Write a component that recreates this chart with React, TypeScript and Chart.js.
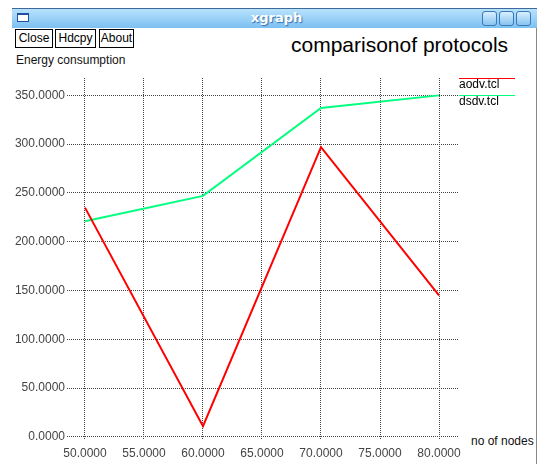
import React, { useEffect, useRef } from "react";
import { Chart, registerables } from "chart.js";

Chart.register(...registerables);

const xValues = [50, 60, 70, 80];
const aodvValues = [235, 11, 297, 145];
const dsdvValues = [221, 247, 337, 350];
const seriesNames = ["aodv.tcl", "dsdv.tcl"];
const xTicks = [50, 55, 60, 65, 70, 75, 80];
const yTicks = [0, 50, 100, 150, 200, 250, 300, 350];

const FONT = "'Liberation Sans', Arial, Helvetica, sans-serif";

const legendPlugin = {
  id: "xgLegend",
  afterDraw(chart: any) {
    const ctx = chart.ctx;
    ctx.save();
    chart.data.datasets.forEach((ds: any, i: number) => {
      const y = 78 + 17 * i;
      ctx.strokeStyle = ds.borderColor;
      ctx.lineWidth = 1;
      ctx.beginPath();
      ctx.moveTo(459, y + 0.5);
      ctx.lineTo(515, y + 0.5);
      ctx.stroke();
      ctx.fillStyle = "#000";
      ctx.font = `12px ${FONT}`;
      ctx.textBaseline = "middle";
      ctx.textAlign = "left";
      ctx.fillText(ds.label, 459, y + 7);
    });
    ctx.restore();
  },
};

export default function App() {
  const ref = useRef<HTMLCanvasElement | null>(null);
  useEffect(() => {
    if (!ref.current) return;
    const chart = new Chart(ref.current, {
      type: "line",
      data: {
        datasets: [
          {
            label: seriesNames[0],
            data: xValues.map((x, i) => ({ x, y: aodvValues[i] })),
            borderColor: "#ff0000",
            borderWidth: 2,
            pointRadius: 0,
            tension: 0,
          },
          {
            label: seriesNames[1],
            data: xValues.map((x, i) => ({ x, y: dsdvValues[i] })),
            borderColor: "#00ff7f",
            borderWidth: 2,
            pointRadius: 0,
            tension: 0,
          },
        ],
      },
      options: {
        animation: false,
        responsive: false,
        devicePixelRatio: 1,
        events: [],
        layout: { padding: { left: 0, right: 81, top: 78, bottom: 0 } },
        plugins: { legend: { display: false }, tooltip: { enabled: false } },
        scales: {
          x: {
            type: "linear",
            min: 48.475,
            max: 81.61,
            afterBuildTicks: (s: any) => {
              s.ticks = xTicks.map((v) => ({ value: v }));
            },
            afterFit: (s: any) => {
              s.height = 24;
            },
            grid: {
              color: "#444",
              lineWidth: 1,
              drawTicks: false,
            },
            border: { display: false, dash: [1, 1] },
            ticks: {
              padding: 6,
              color: "#444",
              font: { family: FONT, size: 12 },
              maxRotation: 0,
              autoSkip: false,
              callback: (v: any) => Number(v).toFixed(4),
            },
          },
          y: {
            type: "linear",
            min: -3.1,
            max: 367.8,
            afterBuildTicks: (s: any) => {
              s.ticks = yTicks.map((v) => ({ value: v }));
            },
            afterFit: (s: any) => {
              s.width = 67;
            },
            grid: { color: "#444", lineWidth: 1, drawTicks: false },
            border: { display: false, dash: [1, 1] },
            ticks: {
              padding: 2,
              color: "#444",
              font: { family: FONT, size: 12 },
              autoSkip: false,
              callback: (v: any) => Number(v).toFixed(4),
            },
          },
        },
      },
      plugins: [legendPlugin],
    } as any);
    return () => chart.destroy();
  }, []);

  const btn = (left: number, width: number, text: string) => (
    <div
      style={{
        position: "absolute",
        left,
        top: 29,
        width: width - 2,
        height: 17,
        border: "1px solid #000",
        background: "#fff",
        font: `12px ${FONT}`,
        lineHeight: "17px",
        textAlign: "center",
        color: "#000",
      }}
    >
      {text}
    </div>
  );

  const winBtn = (left: number) => (
    <div
      style={{
        position: "absolute",
        left,
        top: 11,
        width: 13,
        height: 13,
        border: "1px solid #3a78b8",
        borderRadius: 3,
        background: "linear-gradient(#d8eeff, #88c4f0)",
      }}
    />
  );

  return (
    <div
      style={{
        position: "fixed",
        left: 0,
        top: 0,
        width: 539,
        height: 464,
        background: "#fff",
        overflow: "hidden",
      }}
    >
      <div
        style={{
          position: "absolute",
          left: 12,
          top: 8,
          width: 525,
          height: 20,
          background: "linear-gradient(#b8e2fc, #7cc0f2)",
          borderTop: "1px solid #3d6a9a",
          boxSizing: "border-box",
        }}
      />
      <div
        style={{
          position: "absolute",
          left: 17,
          top: 13,
          width: 12,
          height: 9,
          background: "#fff",
          border: "1px solid #2050a0",
          borderTopWidth: 2,
          boxSizing: "border-box",
        }}
      />
      <div
        style={{
          position: "absolute",
          left: 12,
          top: 8,
          width: 525,
          height: 20,
          textAlign: "center",
          font: `bold 13px 'DejaVu Sans', sans-serif`,
          lineHeight: "20px",
          color: "#fff",
          textShadow: "1px 1px 1px #3070b0",
          paddingLeft: 2,
        }}
      >
        xgraph
      </div>
      {winBtn(482)}
      {winBtn(499)}
      {winBtn(516)}
      <div
        style={{
          position: "absolute",
          left: 536,
          top: 28,
          width: 1,
          height: 436,
          background: "#888",
        }}
      />
      {btn(15, 38, "Close")}
      {btn(55, 41, "Hdcpy")}
      {btn(99, 35, "About")}
      <div
        style={{
          position: "absolute",
          left: 291,
          top: 33,
          font: `21px ${FONT}`,
          color: "#000",
          whiteSpace: "nowrap",
        }}
      >
        comparisonof protocols
      </div>
      <div
        style={{
          position: "absolute",
          left: 16,
          top: 53,
          font: `12px ${FONT}`,
          color: "#111",
          whiteSpace: "nowrap",
        }}
      >
        Energy consumption
      </div>
      <div
        style={{
          position: "absolute",
          left: 471,
          top: 434,
          font: `12px ${FONT}`,
          color: "#111",
          whiteSpace: "nowrap",
        }}
      >
        no of nodes
      </div>
      <canvas
        ref={ref}
        width={539}
        height={464}
        style={{ position: "absolute", left: 0, top: 0, width: 539, height: 464 }}
      />
    </div>
  );
}
